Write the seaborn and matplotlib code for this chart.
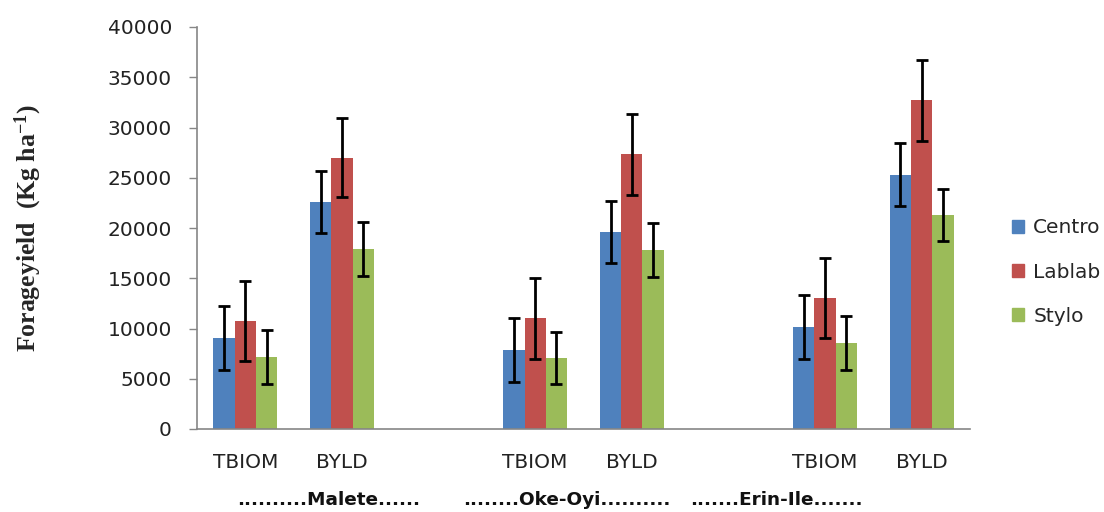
import numpy as np
import pandas as pd
import matplotlib
matplotlib.use("Agg")
import matplotlib.pyplot as plt
import seaborn as sns
from matplotlib.ticker import FixedLocator

# ---- data ----
slots = ["TBIOM_M", "BYLD_M", "gap1", "TBIOM_O", "BYLD_O", "gap2", "TBIOM_E", "BYLD_E"]
slot_labels = ["TBIOM", "BYLD", "", "TBIOM", "BYLD", "", "TBIOM", "BYLD"]
categories = ["TBIOM_M", "BYLD_M", "TBIOM_O", "BYLD_O", "TBIOM_E", "BYLD_E"]
series = ["Centro", "Lablab", "Stylo"]
centro = [9050, 22620, 7860, 19600, 10150, 25300]
lablab = [10750, 27000, 11040, 27360, 13030, 32700]
stylo = [7160, 17880, 7060, 17810, 8560, 21290]
centro_err = [3150, 3100, 3180, 3120, 3180, 3150]
lablab_err = [4000, 3960, 4030, 4030, 3990, 4000]
stylo_err = [2650, 2680, 2600, 2650, 2640, 2620]
site_labels = ["..........Malete......", "........Oke-Oyi..........", ".......Erin-Ile......."]
site_pos = [0.86, 3.33, 5.50]
colors = ["#4F81BD", "#C0504D", "#9BBB59"]

rows = []
for s, vals, errs in zip(series, [centro, lablab, stylo], [centro_err, lablab_err, stylo_err]):
    for c, v, e in zip(categories, vals, errs):
        rows.append({"cat": c, "series": s, "value": v, "err": e})
df = pd.DataFrame(rows)

sns.set_theme(style="white")
plt.rcParams["font.family"] = ["DejaVu Sans"]
plt.rcParams["mathtext.fontset"] = "custom"
plt.rcParams["mathtext.rm"] = "Liberation Serif:bold"
plt.rcParams["mathtext.bf"] = "Liberation Serif:bold"
plt.rcParams["mathtext.it"] = "Liberation Serif:bold"

fig = plt.figure(figsize=(11.04, 5.12), dpi=100)
ax = fig.add_axes([197 / 1104, 1 - 429 / 512, (970 - 197) / 1104, (429 - 27) / 512])

sns.barplot(data=df, x="cat", y="value", hue="series", order=slots,
            hue_order=series, palette=colors, width=0.66, errorbar=None,
            saturation=1, ax=ax, edgecolor="none", linewidth=0)

# error bars, matched to bars via positions
lookup = {(r.cat, r.series): r.err for r in df.itertuples()}
for s, cont in zip(series, ax.containers):
    for bar in cont:
        h = bar.get_height()
        if not np.isfinite(h):
            continue
        xc = bar.get_x() + bar.get_width() / 2
        idx = int(round(xc))
        e = lookup.get((slots[idx], s))
        if e is None:
            continue
        ax.errorbar(xc, h, yerr=e, fmt="none", ecolor="black",
                    elinewidth=2.0, capsize=4, capthick=2.0, zorder=5)

ax.set_ylim(0, 40000)
ax.set_xlim(-0.5, 7.5)
ax.set_yticks(np.arange(0, 40001, 5000))
ax.set_yticklabels([str(v) for v in range(0, 40001, 5000)], fontsize=14.5, color="#222222")
ax.set_xticks(range(len(slots)))
ax.set_xticklabels(slot_labels, fontsize=14.5, color="#222222")
ax.xaxis.set_minor_locator(FixedLocator(np.arange(-0.5, 7.6, 1.0)))
ax.tick_params(axis="x", which="major", length=0, pad=17)
ax.tick_params(axis="x", which="minor", length=6, width=1, color="#868686", direction="out")
ax.tick_params(axis="y", which="major", length=6, width=1, color="#868686", direction="out", left=True, pad=12)

for sp in ["top", "right"]:
    ax.spines[sp].set_visible(False)
for sp in ["left", "bottom"]:
    ax.spines[sp].set_color("#868686")
    ax.spines[sp].set_linewidth(1.2)

ax.set_xlabel("")
ax.set_ylabel("Forageyield  (Kg ha$^{-1}$)", fontsize=18.5, fontweight="bold",
              family="Liberation Serif", labelpad=46)

for lab, xp in zip(site_labels, site_pos):
    ax.text(xp, -0.177, lab, transform=ax.get_xaxis_transform(), ha="center", va="center",
            fontsize=13.3, fontweight="bold", color="#111111")

leg = ax.get_legend()
if leg is not None:
    leg.remove()
handles = [plt.Rectangle((0, 0), 1, 1, color=c) for c in colors]
fig.legend(handles, series, loc="center left", bbox_to_anchor=(994 / 1104, 1 - 272 / 512),
           frameon=False, fontsize=14.5, handlelength=0.6, handleheight=0.6,
           handletextpad=0.45, labelspacing=1.25)

fig.savefig("out.png", dpi=100)
